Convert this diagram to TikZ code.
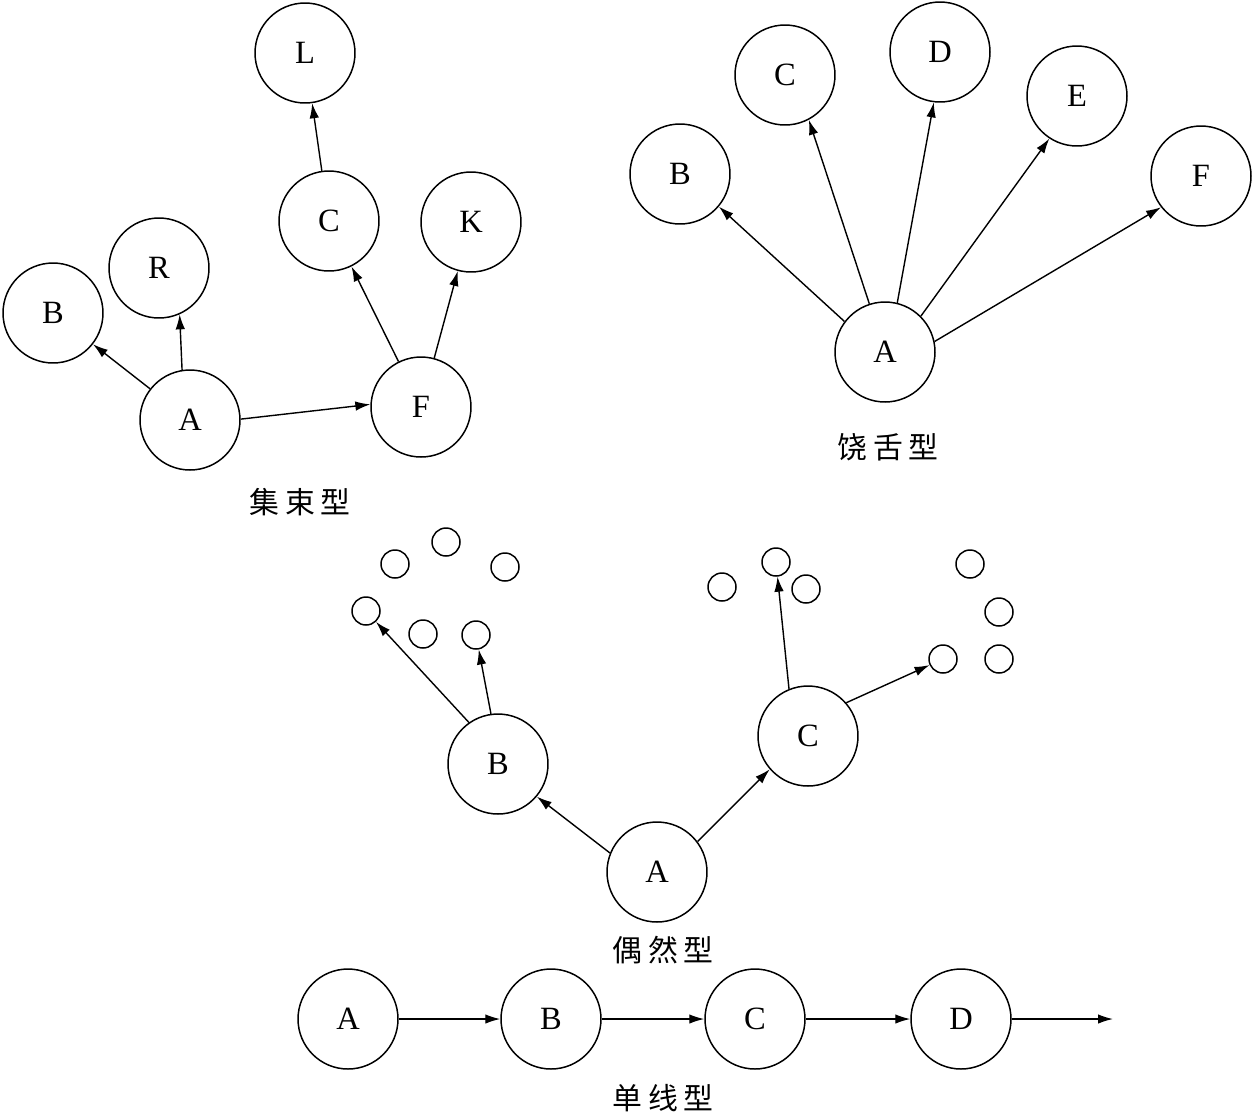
\documentclass[tikz,border=0pt]{standalone}
\usepackage{fontspec}
\setmainfont{Liberation Serif}
\newfontfamily\cjk{Noto Sans CJK SC}
\usetikzlibrary{arrows.meta}
\begin{document}
\begin{tikzpicture}[x=0.02cm,y=-0.02cm,
  big/.style={circle,draw,line width=0.85pt,minimum size=2cm,inner sep=0pt,font=\fontsize{18.5pt}{22pt}\selectfont},
  small/.style={circle,draw,line width=0.85pt,minimum size=0.56cm,inner sep=0pt},
  arr/.style={-{Latex[length=0.3cm,width=0.19cm]},line width=0.8pt},
  lab/.style={font=\cjk\fontsize{17pt}{20pt}\selectfont}]
\useasboundingbox (0,0) rectangle (1254,1117);

% ---- 集束型 ----
\node[big] (jL) at (305,53) {L};
\node[big] (jC) at (329,221) {C};
\node[big] (jK) at (471,222) {K};
\node[big] (jR) at (159,268) {R};
\node[big] (jB) at (53,313) {B};
\node[big] (jA) at (190,420) {A};
\node[big] (jF) at (421,407) {F};
\draw[arr] (jA) -- (jB);
\draw[arr] (jA.99) -- (jR.294);
\draw[arr] (jA.1) -- (jF.177);
\draw[arr] (jF) -- (jC);
\draw[arr] (jF) -- (jK);
\draw[arr] (jC) -- (jL);
\node[lab] (jlab) at (300,502) {集\hspace{0.12cm}束\hspace{0.12cm}型};

% ---- 饶舌型 ----
\node[big] (rB) at (680,174) {B};
\node[big] (rC) at (785,75) {C};
\node[big] (rD) at (940,52) {D};
\node[big] (rE) at (1077,96) {E};
\node[big] (rF) at (1201,176) {F};
\node[big] (rA) at (885,352) {A};
\draw[arr] (rA.143) -- (rB.320);
\draw[arr] (rA.108) -- (rC.298);
\draw[arr] (rA.76) -- (rD.263);
\draw[arr] (rA.45) -- (rE.237);
\draw[arr] (rA.12) -- (rF.218);
\node[lab] (rlab) at (888,447) {饶\hspace{0.12cm}舌\hspace{0.12cm}型};

% ---- 偶然型 ----
\node[big] (oB) at (498,764) {B};
\node[big] (oC) at (808,736) {C};
\node[big] (oA) at (657,872) {A};
\node[small] (s1) at (446,542) {};
\node[small] (s2) at (395,564) {};
\node[small] (s3) at (505,567) {};
\node[small] (s4) at (366,611) {};
\node[small] (s5) at (423,634) {};
\node[small] (s6) at (476,635) {};
\node[small] (s7) at (722,587) {};
\node[small] (s8) at (776,562) {};
\node[small] (s9) at (806,589) {};
\node[small] (s10) at (970,564) {};
\node[small] (s11) at (999,612) {};
\node[small] (s12) at (943,659) {};
\node[small] (s13) at (999,659) {};
\draw[arr] (oA.158) -- (oB.320);
\draw[arr] (oA.37) -- (oC.221);
\draw[arr] (oB.125) -- (s4);
\draw[arr] (oB.98) -- (s6);
\draw[arr] (oC.112) -- (s8);
\draw[arr] (oC.41) -- (s12);
\node[lab] (olab) at (663,950) {偶\hspace{0.12cm}然\hspace{0.12cm}型};

% ---- 单线型 ----
\node[big] (dA) at (348,1019) {A};
\node[big] (dB) at (551,1019) {B};
\node[big] (dC) at (755,1019) {C};
\node[big] (dD) at (961,1019) {D};
\coordinate (dEnd) at (1113,1019);
\draw[arr] (dA) -- (dB);
\draw[arr] (dB) -- (dC);
\draw[arr] (dC) -- (dD);
\draw[arr] (dD) -- (dEnd);
\node[lab] (dlab) at (663,1098) {单\hspace{0.12cm}线\hspace{0.12cm}型};
\end{tikzpicture}
\end{document}
